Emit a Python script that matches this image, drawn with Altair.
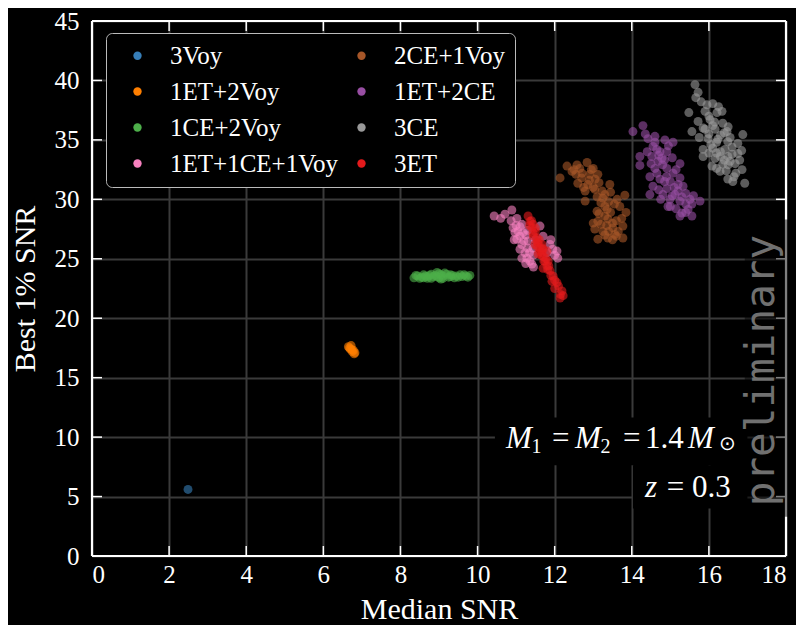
import altair as alt
import pandas as pd

# ---------------- data ----------------
SERIES = ["3Voy", "1ET+2Voy", "1CE+2Voy", "1ET+1CE+1Voy", "2CE+1Voy", "1ET+2CE", "3CE", "3ET"]
COLORS = {"3Voy": "#377eb8", "1ET+2Voy": "#ff7f00", "1CE+2Voy": "#4daf4a", "1ET+1CE+1Voy": "#f781bf",
          "2CE+1Voy": "#a65628", "1ET+2CE": "#984ea3", "3CE": "#999999", "3ET": "#e41a1c"}

VOY3_X = [2.49]
VOY3_Y = [5.6]

ET1VOY2_X = [6.65, 6.70, 6.75, 6.80, 6.72, 6.78, 6.82, 6.68, 6.74]
ET1VOY2_Y = [17.6, 17.4, 17.2, 17.0, 17.7, 17.3, 17.1, 17.5, 17.35]

CE1VOY2_X = [8.35, 8.45, 8.55, 8.60, 8.70, 8.80, 8.90, 9.00, 9.00, 9.10, 9.20, 9.25, 9.35, 9.45,
             9.55, 9.60, 9.70, 9.80, 8.80, 9.10, 8.50, 9.40, 8.95, 9.05, 8.65, 9.30,
             8.40, 8.60, 8.75, 8.85, 8.95, 9.05, 9.15, 9.30, 9.50, 9.65, 9.75, 8.70]
CE1VOY2_Y = [23.40, 23.55, 23.45, 23.65, 23.50, 23.70, 23.60, 23.75, 23.40, 23.55, 23.70, 23.45, 23.60, 23.55,
             23.65, 23.50, 23.55, 23.60, 23.35, 23.35, 23.35, 23.40, 23.50, 23.65, 23.55, 23.50,
             23.60, 23.40, 23.60, 23.50, 23.85, 23.30, 23.80, 23.65, 23.45, 23.65, 23.45, 23.35]

MIX_X = [10.43, 10.71, 10.89, 10.87, 11.02, 11.10, 10.97, 11.02, 11.15, 11.23, 11.36, 11.41, 11.28, 11.62,
         11.70, 11.88, 12.06, 12.08, 11.18, 11.31, 11.44, 11.15, 11.80, 10.92, 11.05, 11.20, 11.30, 11.45,
         11.10, 11.25, 11.50, 10.60, 11.00, 11.15, 10.95, 11.10, 11.35, 11.25, 11.45, 11.95, 12.00, 11.90,
         11.30]
MIX_Y = [28.60, 28.75, 29.10, 28.20, 28.40, 27.70, 27.20, 26.65, 26.20, 25.50, 24.80, 24.55, 25.05, 27.75,
         26.90, 26.20, 25.65, 25.05, 27.20, 26.50, 25.90, 25.05, 25.50, 27.60, 27.30, 26.50, 25.90, 25.30,
         26.90, 27.00, 26.60, 28.40, 27.80, 27.90, 26.60, 25.80, 25.50, 24.60, 24.30, 25.80, 25.30, 26.60,
         27.40]

CE2VOY1_X = [12.14, 12.32, 12.58, 12.84, 12.71, 12.91, 13.12, 12.60, 12.86, 13.04, 13.23, 13.43, 12.79, 13.25,
             13.62, 13.82, 13.10, 13.36, 13.69, 13.12, 13.38, 13.74, 13.04, 13.25, 13.51, 13.77, 13.12, 13.38,
             13.77, 13.56, 12.79, 12.45, 12.90, 13.00, 12.70, 13.20, 13.40, 13.30, 13.50, 13.20, 13.60, 13.40,
             12.50, 13.00, 12.55, 12.65, 12.95, 13.05, 12.75, 13.15, 13.30, 13.10, 13.45, 13.55, 13.30, 13.15,
             13.45, 13.60, 13.35, 13.65, 13.30, 13.50, 13.00, 13.85]
CE2VOY1_Y = [31.80, 32.80, 32.90, 33.10, 32.20, 32.10, 32.10, 31.35, 31.25, 30.85, 30.70, 31.25, 29.85, 30.10,
             30.00, 30.35, 29.00, 29.15, 29.40, 28.15, 28.35, 28.40, 27.50, 27.30, 27.60, 27.75, 26.65, 26.75,
             26.75, 27.05, 30.70, 32.35, 31.60, 31.00, 31.80, 29.70, 29.80, 28.60, 28.00, 27.90, 26.90, 27.30,
             32.50, 32.60, 32.10, 32.60, 32.50, 31.70, 31.00, 31.40, 30.40, 30.20, 30.60, 29.60, 29.40, 28.80,
             28.90, 28.20, 27.80, 27.30, 27.00, 26.60, 28.00, 28.90]

ET1CE2_X = [14.03, 14.29, 14.42, 14.86, 15.07, 14.21, 14.21, 14.55, 14.73, 14.91, 14.52, 14.78, 15.25, 14.60,
            14.91, 15.07, 14.47, 14.73, 14.55, 14.91, 15.20, 15.33, 14.47, 14.81, 15.12, 14.99, 15.25, 15.51,
            15.77, 14.94, 15.56, 15.30, 15.56, 15.25, 15.46, 14.68, 14.70, 14.80, 15.00, 15.10, 14.90, 15.20,
            15.30, 15.00, 14.60, 14.50, 15.40, 14.35, 14.60, 14.65, 14.95, 14.40, 14.85, 15.05, 14.65, 15.15,
            14.85, 15.25, 14.70, 15.05, 15.40, 15.15, 15.40, 14.75, 15.60]
ET1CE2_Y = [35.70, 36.20, 35.10, 35.00, 34.80, 33.60, 32.85, 34.45, 34.00, 34.00, 33.60, 33.45, 33.00, 32.60,
            32.60, 32.20, 31.90, 31.70, 31.10, 30.90, 31.25, 31.10, 30.40, 30.40, 30.40, 30.00, 29.85, 30.00,
            29.85, 29.40, 29.60, 28.85, 28.60, 28.60, 29.15, 33.20, 33.70, 32.90, 31.50, 31.00, 31.90, 30.70,
            30.20, 29.40, 34.80, 33.00, 29.60, 35.50, 35.30, 34.20, 34.50, 34.00, 33.30, 33.50, 32.20, 32.50,
            31.50, 31.80, 30.80, 30.30, 30.50, 29.20, 28.90, 30.00, 30.30]

CE3_X = [15.64, 15.72, 15.66, 15.95, 16.10, 15.48, 16.21, 15.72, 16.03, 16.36, 15.56, 15.85, 16.16, 16.47,
         16.88, 15.98, 16.23, 16.49, 16.75, 15.85, 16.10, 16.42, 15.85, 16.16, 16.49, 16.75, 16.08, 16.36,
         16.68, 16.86, 16.29, 16.49, 16.93, 16.62, 16.34, 16.00, 16.20, 16.30, 16.40, 16.10, 16.60, 16.50,
         16.70, 15.90, 16.20, 16.00, 16.40, 15.80, 15.90, 16.25, 15.75, 16.05, 16.30, 16.55, 16.60, 16.85,
         16.00, 16.30, 16.55, 16.20, 16.45, 16.80, 16.65, 16.15, 16.50]
CE3_Y = [39.65, 39.00, 38.55, 37.95, 38.05, 37.30, 37.30, 36.55, 36.70, 36.40, 35.70, 36.00, 35.90, 35.70,
         35.45, 35.10, 35.05, 34.85, 34.70, 34.20, 34.30, 34.20, 33.60, 33.45, 33.60, 33.85, 32.80, 32.95,
         33.00, 32.50, 32.35, 31.70, 31.35, 31.50, 37.40, 35.50, 34.80, 34.00, 33.30, 36.20, 33.80, 32.90,
         32.20, 35.90, 33.90, 37.00, 35.60, 38.20, 37.40, 37.80, 35.20, 34.60, 35.40, 35.20, 34.40, 34.10,
         33.90, 33.60, 33.20, 32.60, 32.40, 33.30, 31.90, 36.50, 36.10]

ET3_X = [11.31, 11.36, 11.41, 11.44, 11.54, 11.57, 11.62, 11.67, 11.70, 11.75, 11.80, 11.88, 11.96, 12.06,
         12.19, 12.22, 12.14, 11.83, 11.67, 11.49, 11.57, 11.80, 11.70, 12.00, 11.93, 11.44, 11.50, 11.60,
         11.70, 11.78, 11.85, 11.40, 11.55, 11.65, 11.35, 11.45, 11.55, 11.62, 11.68, 11.72, 11.82, 11.90,
         12.00, 12.10, 12.15, 11.50]
ET3_Y = [28.60, 28.15, 27.60, 27.15, 26.75, 26.30, 25.90, 25.50, 25.20, 24.80, 24.40, 24.00, 23.55, 23.00,
         22.30, 21.90, 21.70, 24.80, 26.20, 26.20, 25.40, 25.65, 24.20, 22.50, 23.10, 27.90, 27.30, 26.60,
         25.80, 25.00, 24.40, 28.20, 26.00, 25.30, 27.80, 26.90, 26.40, 25.60, 25.90, 24.80, 24.10, 23.60,
         23.20, 22.70, 22.00, 27.60]

POINTS = {
    "3Voy": (VOY3_X, VOY3_Y),
    "1ET+2Voy": (ET1VOY2_X, ET1VOY2_Y),
    "1CE+2Voy": (CE1VOY2_X, CE1VOY2_Y),
    "1ET+1CE+1Voy": (MIX_X, MIX_Y),
    "2CE+1Voy": (CE2VOY1_X, CE2VOY1_Y),
    "1ET+2CE": (ET1CE2_X, ET1CE2_Y),
    "3CE": (CE3_X, CE3_Y),
    "3ET": (ET3_X, ET3_Y),
}

X_TICKS = [0, 2, 4, 6, 8, 10, 12, 14, 16, 18]
Y_TICKS = [0, 5, 10, 15, 20, 25, 30, 35, 40, 45]
X_MAX, Y_MAX = 18, 45

# annotation pieces: (text, x-left, baseline y)
ANN_ITALIC = [("M", 10.74, 9.05), ("M", 12.53, 9.05), ("M", 15.46, 9.05), ("z", 14.34, 4.95)]
ANN_SUB = [("1", 11.40, 8.65), ("2", 13.19, 8.65), ("⊙", 16.27, 8.95)]
ANN_UPRIGHT = [("=", 11.93, 9.05), ("=", 13.77, 9.05), ("1.4", 14.34, 9.05),
               ("=", 14.91, 4.95), ("0.3", 15.56, 4.95)]
ANN_BOXES = [(10.45, 17.0, 7.63, 11.65), (14.03, 17.0, 4.0, 7.63)]
PRELIM_BOX = [(16.93, 18.25, 3.3, 28.3)]

# ---------------- tables ----------------
rows = []
for i, s in enumerate(SERIES):
    xs, ys = POINTS[s]
    for x, y in zip(xs, ys):
        rows.append({"x": x, "y": y, "series": s, "order": i})
pts = pd.DataFrame(rows)

spines = pd.DataFrame([
    {"x": 0, "x2": 0, "y": 0, "y2": Y_MAX},
    {"x": X_MAX, "x2": X_MAX, "y": 0, "y2": Y_MAX},
    {"x": 0, "x2": X_MAX, "y": 0, "y2": 0},
    {"x": 0, "x2": X_MAX, "y": Y_MAX, "y2": Y_MAX},
])
tl_x = 0.26
tl_y = 0.84
tick_rows = []
for t in X_TICKS[1:-1]:
    tick_rows.append({"x": t, "x2": t, "y": 0, "y2": tl_y})
    tick_rows.append({"x": t, "x2": t, "y": Y_MAX - tl_y, "y2": Y_MAX})
for t in Y_TICKS[1:-1]:
    tick_rows.append({"x": 0, "x2": tl_x, "y": t, "y2": t})
    tick_rows.append({"x": X_MAX - tl_x, "x2": X_MAX, "y": t, "y2": t})
ticks = pd.DataFrame(tick_rows)

ann_it = pd.DataFrame(ANN_ITALIC, columns=["t", "x", "y"])
ann_sub = pd.DataFrame(ANN_SUB, columns=["t", "x", "y"])
ann_up = pd.DataFrame(ANN_UPRIGHT, columns=["t", "x", "y"])
boxes = pd.DataFrame(ANN_BOXES, columns=["x", "x2", "y", "y2"])
pbox = pd.DataFrame(PRELIM_BOX, columns=["x", "x2", "y", "y2"])
ptext = pd.DataFrame([{"t": "preliminary", "x": 17.38, "y": 15.6}])

# ---------------- encodings ----------------
SERIF = "Liberation Serif"
xscale = alt.Scale(domain=[0, X_MAX], nice=False, zero=False)
yscale = alt.Scale(domain=[0, Y_MAX], nice=False, zero=False)
xaxis = alt.Axis(values=X_TICKS, grid=True, domain=False, ticks=False, labelPadding=6,
                 title="Median SNR", titlePadding=7)
yaxis = alt.Axis(values=Y_TICKS, grid=True, domain=False, ticks=False, labelPadding=13,
                 title="Best 1% SNR", titlePadding=14)


def X(f):
    return alt.X(f, type="quantitative", scale=xscale, axis=xaxis)


def Y(f):
    return alt.Y(f, type="quantitative", scale=yscale, axis=yaxis)


legend = alt.Legend(orient="none", legendX=14, legendY=12, columns=2, title=None,
                    symbolType="circle", symbolSize=70, symbolOpacity=1, symbolStrokeWidth=0,
                    fillColor="black", strokeColor="#bbbbbb", cornerRadius=6, padding=10,
                    rowPadding=10, columnPadding=1, labelOffset=20, symbolOffset=9)

points = alt.Chart(pts).mark_circle(size=80, opacity=0.6).encode(
    x=X("x"), y=Y("y"),
    color=alt.Color("series:N", scale=alt.Scale(domain=SERIES, range=[COLORS[s] for s in SERIES]),
                    legend=legend),
    order=alt.Order("order:Q"),
)

bg = alt.Chart(boxes).mark_rect(color="black").encode(x=X("x"), x2="x2", y=Y("y"), y2="y2")

t_it = alt.Chart(ann_it).mark_text(align="left", baseline="alphabetic", font=SERIF, fontSize=31,
                                   fontStyle="italic", color="white").encode(x=X("x"), y=Y("y"), text="t")
t_sub = alt.Chart(ann_sub).mark_text(align="left", baseline="alphabetic", font=SERIF, fontSize=20,
                                     color="white").encode(x=X("x"), y=Y("y"), text="t")
t_up = alt.Chart(ann_up).mark_text(align="left", baseline="alphabetic", font=SERIF, fontSize=31,
                                   color="white").encode(x=X("x"), y=Y("y"), text="t")

spine_l = alt.Chart(spines).mark_rule(color="white", strokeWidth=2.2).encode(x=X("x"), x2="x2", y=Y("y"), y2="y2")
tick_l = alt.Chart(ticks).mark_rule(color="white", strokeWidth=1.5).encode(x=X("x"), x2="x2", y=Y("y"), y2="y2")

over = alt.Chart(pbox).mark_rect(color="black", opacity=0.5).encode(x=X("x"), x2="x2", y=Y("y"), y2="y2")
prelim = alt.Chart(ptext).mark_text(angle=270, align="center", baseline="middle", font="DejaVu Sans Mono",
                                    fontSize=41, color="#707070").encode(x=X("x"), y=Y("y"), text="t")

chart = alt.layer(points, bg, t_it, t_sub, t_up, spine_l, tick_l, over, prelim).properties(
    width=694, height=535,
    autosize=alt.AutoSizeParams(type="none"),
    padding={"left": 84, "top": 13, "right": 10, "bottom": 69},
    background="black",
).configure(
    font=SERIF,
).configure_view(
    stroke=None,
).configure_axis(
    labelFont=SERIF, labelFontSize=25, labelColor="white",
    titleFont=SERIF, titleFontSize=30, titleFontWeight="normal", titleColor="white",
    gridColor="#3a3a3a", gridWidth=2,
).configure_legend(
    labelFont=SERIF, labelFontSize=25, labelColor="white", labelLimit=400,
)

chart.save("out.html", embed_options={"renderer": "svg", "actions": False})
